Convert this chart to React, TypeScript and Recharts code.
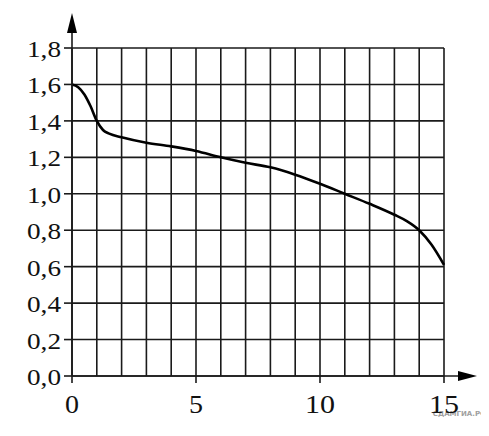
import React from 'react';
import { LineChart, Line, CartesianGrid, XAxis, YAxis } from 'recharts';

const xValues = [0, 0.25, 0.5, 0.75, 1, 1.25, 1.5, 2, 3, 4, 5, 6, 7, 8, 9, 10, 11, 12, 13, 13.5, 14, 14.5, 15];
const yValues = [1.6, 1.585, 1.545, 1.48, 1.4, 1.35, 1.33, 1.31, 1.28, 1.26, 1.235, 1.2, 1.17, 1.145, 1.105, 1.055, 1.0, 0.945, 0.885, 0.85, 0.8, 0.72, 0.61];

const xTicks = [0, 1, 2, 3, 4, 5, 6, 7, 8, 9, 10, 11, 12, 13, 14, 15];
const xLabeled = [0, 5, 10, 15];
const yTicks = [0, 0.2, 0.4, 0.6, 0.8, 1.0, 1.2, 1.4, 1.6, 1.8];

const data = xValues.map((x, i) => ({ x, y: yValues[i] }));

const INK = '#1a1a1a';
const SERIF = 'Liberation Serif';

const fmtY = (v: number) => v.toFixed(1).replace('.', ',');

const YTick = (props: any) => {
  const { x, y, payload } = props;
  return (
    <g>
      <line x1={x - 8} y1={y} x2={x} y2={y} stroke={INK} strokeWidth={1.6} />
      <text
        x={x - 11}
        y={y + 9}
        textAnchor="end"
        fontFamily={SERIF}
        fontSize={23}
        fill="#111"
        textLength={34}
        lengthAdjust="spacingAndGlyphs"
      >
        {fmtY(payload.value)}
      </text>
    </g>
  );
};

const XTick = (props: any) => {
  const { x, y, payload } = props;
  if (!xLabeled.includes(payload.value)) return null;
  const label = String(payload.value);
  return (
    <g>
      <line x1={x} y1={y} x2={x} y2={y + 7} stroke={INK} strokeWidth={1.6} />
      <text
        x={x}
        y={y + 37}
        textAnchor="middle"
        fontFamily={SERIF}
        fontSize={26}
        fill="#111"
        textLength={label.length > 1 ? 30 : 14}
        lengthAdjust="spacingAndGlyphs"
      >
        {label}
      </text>
    </g>
  );
};

const YArrow = (props: any) => {
  const { x, y, width, height } = props.viewBox;
  const ax = x + width;
  return (
    <g>
      <line x1={ax} y1={y + height} x2={ax} y2={y - 16} stroke={INK} strokeWidth={1.6} />
      <polygon points={`${ax},${y - 35} ${ax - 5},${y - 15} ${ax + 5},${y - 15}`} fill="#000" />
    </g>
  );
};

const XArrow = (props: any) => {
  const { x, y, width } = props.viewBox;
  const right = x + width;
  return (
    <g>
      <line x1={x} y1={y} x2={right + 15} y2={y} stroke={INK} strokeWidth={1.6} />
      <polygon points={`${right + 33},${y} ${right + 14},${y - 5} ${right + 14},${y + 5}`} fill="#000" />
      <text
        x={right + 43}
        y={y + 40}
        textAnchor="end"
        fontFamily="DejaVu Sans"
        fontSize={7}
        fontWeight="bold"
        fill="#a0a0a0"
      >
        СДАМГИА.РФ
      </text>
    </g>
  );
};

export default function App() {
  return (
    <LineChart width={481} height={428} data={data} margin={{ top: 40, right: 45, bottom: 0, left: 0 }}>
      <CartesianGrid stroke={INK} strokeWidth={1.6} />
      <XAxis
        type="number"
        dataKey="x"
        domain={[0, 15]}
        ticks={xTicks}
        interval={0}
        height={60}
        axisLine={false}
        tickLine={false}
        tickSize={0}
        tickMargin={0}
        tick={<XTick />}
        label={<XArrow />}
      />
      <YAxis
        type="number"
        domain={[0, 1.8]}
        ticks={yTicks}
        interval={0}
        width={64}
        axisLine={false}
        tickLine={false}
        tickSize={0}
        tickMargin={0}
        tick={<YTick />}
        label={<YArrow />}
      />
      <Line
        type="monotone"
        dataKey="y"
        stroke="#000"
        strokeWidth={2.6}
        dot={false}
        isAnimationActive={false}
      />
    </LineChart>
  );
}
